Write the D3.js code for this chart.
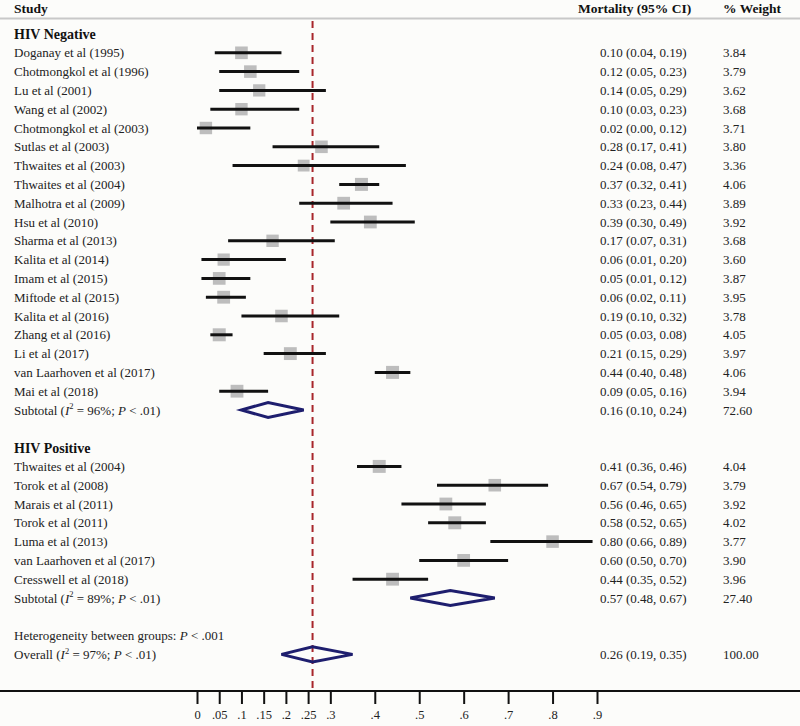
<!DOCTYPE html>
<html>
<head>
<meta charset="utf-8">
<script src="https://cdn.jsdelivr.net/npm/d3@7"></script>
<style>
body { margin: 0; background: #fcfcfa; }
svg { display: block; font-family: "Liberation Serif", "DejaVu Serif", serif; }
</style>
</head>
<body>
<div class="canvas"></div>
<script>
// HIV negative studies
const negStudies = ["Doganay et al (1995)", "Chotmongkol et al (1996)", "Lu et al (2001)", "Wang et al (2002)",
  "Chotmongkol et al (2003)", "Sutlas et al (2003)", "Thwaites et al (2003)", "Thwaites et al (2004)",
  "Malhotra et al (2009)", "Hsu et al (2010)", "Sharma et al (2013)", "Kalita et al (2014)", "Imam et al (2015)",
  "Miftode et al (2015)", "Kalita et al (2016)", "Zhang et al (2016)", "Li et al (2017)",
  "van Laarhoven et al (2017)", "Mai et al (2018)"];
const negEst = [0.10, 0.12, 0.14, 0.10, 0.02, 0.28, 0.24, 0.37, 0.33, 0.39, 0.17, 0.06, 0.05, 0.06, 0.19, 0.05, 0.21, 0.44, 0.09];
const negLo  = [0.04, 0.05, 0.05, 0.03, 0.00, 0.17, 0.08, 0.32, 0.23, 0.30, 0.07, 0.01, 0.01, 0.02, 0.10, 0.03, 0.15, 0.40, 0.05];
const negHi  = [0.19, 0.23, 0.29, 0.23, 0.12, 0.41, 0.47, 0.41, 0.44, 0.49, 0.31, 0.20, 0.12, 0.11, 0.32, 0.08, 0.29, 0.48, 0.16];
const negWeight = [3.84, 3.79, 3.62, 3.68, 3.71, 3.80, 3.36, 4.06, 3.89, 3.92, 3.68, 3.60, 3.87, 3.95, 3.78, 4.05, 3.97, 4.06, 3.94];

// HIV positive studies
const posStudies = ["Thwaites et al (2004)", "Torok et al (2008)", "Marais et al (2011)", "Torok et al (2011)",
  "Luma et al (2013)", "van Laarhoven et al (2017)", "Cresswell et al (2018)"];
const posEst = [0.41, 0.67, 0.56, 0.58, 0.80, 0.60, 0.44];
const posLo  = [0.36, 0.54, 0.46, 0.52, 0.66, 0.50, 0.35];
const posHi  = [0.46, 0.79, 0.65, 0.65, 0.89, 0.70, 0.52];
const posWeight = [4.04, 3.79, 3.92, 4.02, 3.77, 3.90, 3.96];

// pooled estimates: [est, lo, hi, weight, I2]
const negSubtotal = [0.16, 0.10, 0.24, 72.60, 96];
const posSubtotal = [0.57, 0.48, 0.67, 27.40, 89];
const overall = [0.26, 0.19, 0.35, 100.00, 97];

const tickValues = [0, 0.05, 0.1, 0.15, 0.2, 0.25, 0.3, 0.4, 0.5, 0.6, 0.7, 0.8, 0.9];

const width = 800, height = 726;
const svg = d3.select('.canvas')
  .append('svg')
    .attr('width', width)
    .attr('height', height);

svg.append('rect').attr('width', width).attr('height', height).attr('fill', '#fcfcfa');

//build the row list
const rows = [];
rows.push({type: 'header', label: 'HIV Negative'});
negStudies.forEach((s, i) => rows.push({type: 'study', label: s, est: negEst[i], lo: negLo[i], hi: negHi[i], w: negWeight[i]}));
rows.push({type: 'pooled', kind: 'Subtotal', est: negSubtotal[0], lo: negSubtotal[1], hi: negSubtotal[2], w: negSubtotal[3], i2: negSubtotal[4]});
rows.push({type: 'blank'});
rows.push({type: 'header', label: 'HIV Positive'});
posStudies.forEach((s, i) => rows.push({type: 'study', label: s, est: posEst[i], lo: posLo[i], hi: posHi[i], w: posWeight[i]}));
rows.push({type: 'pooled', kind: 'Subtotal', est: posSubtotal[0], lo: posSubtotal[1], hi: posSubtotal[2], w: posSubtotal[3], i2: posSubtotal[4]});
rows.push({type: 'blank'});
rows.push({type: 'note'});
rows.push({type: 'pooled', kind: 'Overall', est: overall[0], lo: overall[1], hi: overall[2], w: overall[3], i2: overall[4]});

//scales
const x = d3.scaleLinear().domain([0, 0.9]).range([197, 597]);
const y = d3.scalePoint().domain(d3.range(rows.length)).range([34, 34 + 18.8 * (rows.length - 1)]);
const size = d3.scaleSqrt().domain([0, 4.06]).range([0, 13]);
const f2 = d3.format('.2f');

const axisY = 691;
const fs = 13;

//header
svg.append('line').attr('x1', 0).attr('x2', width).attr('y1', 18.5).attr('y2', 18.5)
  .attr('stroke', '#c8c8c8').attr('stroke-width', 2);
const headY = 8;
[['Study', 14], ['Mortality (95% CI)', 578], ['% Weight', 723]].forEach(h => {
  svg.append('text').attr('x', h[1]).attr('y', headY).attr('dy', '0.35em')
    .attr('font-size', 13.5).attr('font-weight', 'bold').attr('fill', '#111').text(h[0]);
});

//reference line at overall estimate
svg.append('line')
  .attr('x1', x(overall[0])).attr('x2', x(overall[0]))
  .attr('y1', 21).attr('y2', axisY)
  .attr('stroke', '#a8262b').attr('stroke-width', 2)
  .attr('stroke-dasharray', '7,5');

const g = svg.append('g');
rows.forEach((r, i) => {
  const cy = y(i);
  if (r.type === 'header') {
    g.append('text').attr('x', 14).attr('y', cy).attr('dy', '0.35em')
      .attr('font-size', 14).attr('font-weight', 'bold').attr('fill', '#111').text(r.label);
  }
  if (r.type === 'study') {
    g.append('text').attr('x', 14).attr('y', cy).attr('dy', '0.35em')
      .attr('font-size', fs).attr('fill', '#222').text(r.label);
    const s = size(r.w);
    g.append('rect').attr('x', x(r.est) - s / 2).attr('y', cy - s / 2)
      .attr('width', s).attr('height', s).attr('fill', '#bdbdbd');
    g.append('line').attr('x1', x(r.lo)).attr('x2', x(r.hi)).attr('y1', cy).attr('y2', cy)
      .attr('stroke', '#111').attr('stroke-width', 3);
  }
  if (r.type === 'pooled') {
    const t = g.append('text').attr('x', 14).attr('y', cy).attr('dy', '0.35em')
      .attr('font-size', fs).attr('fill', '#222');
    t.append('tspan').text(r.kind + ' (');
    t.append('tspan').attr('font-style', 'italic').text('I');
    t.append('tspan').attr('font-size', 8.5).attr('dy', '-0.6em').text('2');
    t.append('tspan').attr('dy', '0.4em').text(' = ' + r.i2 + '%; ');
    t.append('tspan').attr('font-style', 'italic').text('P');
    t.append('tspan').text(' < .01)');
    const h = 7.5;
    g.append('path')
      .attr('d', `M${x(r.lo)},${cy} L${x(r.est)},${cy - h} L${x(r.hi)},${cy} L${x(r.est)},${cy + h} Z`)
      .attr('fill', 'none').attr('stroke', '#1e1e6e').attr('stroke-width', 3);
  }
  if (r.type === 'note') {
    const t = g.append('text').attr('x', 14).attr('y', cy).attr('dy', '0.35em')
      .attr('font-size', fs).attr('fill', '#222');
    t.append('tspan').text('Heterogeneity between groups: ');
    t.append('tspan').attr('font-style', 'italic').text('P');
    t.append('tspan').text(' < .001');
  }
  if (r.type === 'study' || r.type === 'pooled') {
    g.append('text').attr('x', 600).attr('y', cy).attr('dy', '0.35em')
      .attr('font-size', fs).attr('fill', '#222')
      .text(`${f2(r.est)} (${f2(r.lo)}, ${f2(r.hi)})`);
    g.append('text').attr('x', 723).attr('y', cy).attr('dy', '0.35em')
      .attr('font-size', fs).attr('fill', '#222').text(f2(r.w));
  }
});

//axis
const xAxis = d3.axisBottom(x)
  .tickValues(tickValues)
  .tickSize(13)
  .tickPadding(6)
  .tickFormat(d => d === 0 ? '0' : String(d).replace(/^0/, ''));
const xAxisGroup = svg.append('g').attr('transform', `translate(0,${axisY})`).call(xAxis);
xAxisGroup.select('.domain').remove();
xAxisGroup.selectAll('line').attr('stroke', '#111').attr('stroke-width', 2);
xAxisGroup.selectAll('text').attr('font-size', 12.5)
  .attr('font-family', '"Liberation Serif", serif').attr('fill', '#222');
svg.append('line').attr('x1', 0).attr('x2', width).attr('y1', axisY).attr('y2', axisY)
  .attr('stroke', '#111').attr('stroke-width', 2);
</script>
</body>
</html>
